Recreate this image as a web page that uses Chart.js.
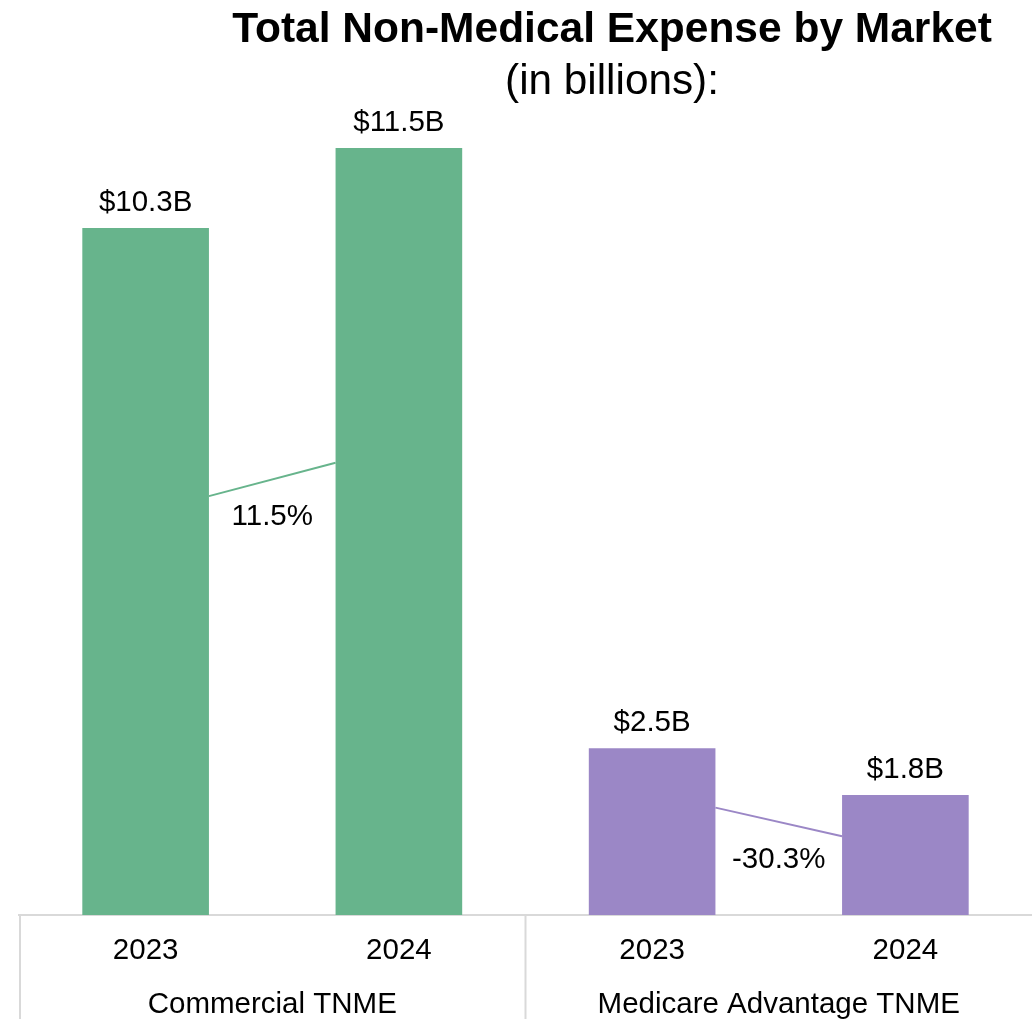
<!DOCTYPE html>
<html>
<head>
<meta charset="utf-8">
<script src="https://cdn.jsdelivr.net/npm/chart.js@4.4.1/dist/chart.umd.min.js"></script>
<style>
  html, body { margin: 0; padding: 0; background: #ffffff; }
  #wrap { width: 1032px; height: 1019px; position: relative; }
</style>
</head>
<body>
<div id="wrap"><canvas id="chart" width="1032" height="1019"></canvas></div>
<script>
// Total non-medical expense (TNME), in billions of dollars
const markets = ['Commercial TNME', 'Medicare Advantage TNME'];
const years = ['2023', '2024', '2023', '2024'];
const expense = [10.3, 11.5, 2.5, 1.8];
const barMarket = [0, 0, 1, 1];

// Year-over-year change per market, with the connector drawn between each pair of bars
const changeLabels = ['11.5%', '-30.3%'];
const connectorFrom = [6.28, 1.61];
const connectorTo = [6.78, 1.18];

const marketColors = ['#67b48c', '#9b87c6'];
const FONT = '"Liberation Sans", Arial, sans-serif';

const annotations = {
  id: 'annotations',
  afterDraw(chart) {
    const { ctx, chartArea, scales } = chart;
    const x = scales.x, y = scales.y;
    const meta = chart.getDatasetMeta(0);
    ctx.save();

    // group separators below the axis
    ctx.strokeStyle = '#d9d9d9';
    ctx.lineWidth = 2;
    const mid = (x.getPixelForValue(1) + x.getPixelForValue(2)) / 2;
    [chartArea.left + 1, mid].forEach(px => {
      ctx.beginPath();
      ctx.moveTo(px, chartArea.bottom);
      ctx.lineTo(px, chart.height);
      ctx.stroke();
    });

    // market names under the year ticks
    ctx.fillStyle = '#000';
    ctx.font = '29.5px ' + FONT;
    ctx.textAlign = 'center';
    ctx.textBaseline = 'alphabetic';
    const bounds = [chartArea.left, mid, chartArea.right];
    markets.forEach((m, i) => {
      ctx.fillText(m, (bounds[i] + bounds[i + 1]) / 2, chartArea.bottom + 98);
    });

    // value labels above the bars
    meta.data.forEach((bar, i) => {
      ctx.fillText('$' + expense[i].toFixed(1) + 'B', bar.x, bar.y - 17);
    });

    // change connectors and percentages
    for (let g = 0; g < markets.length; g++) {
      const a = meta.data[g * 2], b = meta.data[g * 2 + 1];
      const x1 = a.x + a.width / 2, x2 = b.x - b.width / 2;
      const y1 = y.getPixelForValue(connectorFrom[g]);
      const y2 = y.getPixelForValue(connectorTo[g]);
      ctx.strokeStyle = marketColors[g];
      ctx.lineWidth = 2;
      ctx.beginPath();
      ctx.moveTo(x1, y1);
      ctx.lineTo(x2, y2);
      ctx.stroke();
      ctx.fillStyle = '#000';
      ctx.fillText(changeLabels[g], (x1 + x2) / 2, (y1 + y2) / 2 + 46);
    }

    // heading
    ctx.font = 'bold 42.5px ' + FONT;
    ctx.fillText('Total Non-Medical Expense by Market', 612, 42);
    ctx.font = '42.3px ' + FONT;
    ctx.fillText('(in billions):', 612, 94);
    ctx.restore();
  }
};

new Chart(document.getElementById('chart'), {
  type: 'bar',
  data: {
    labels: years,
    datasets: [{
      data: expense,
      backgroundColor: barMarket.map(m => marketColors[m]),
      borderWidth: 0,
      barPercentage: 0.5,
      categoryPercentage: 1.0
    }]
  },
  options: {
    responsive: false,
    devicePixelRatio: 1,
    animation: false,
    layout: { padding: { top: 114.6, left: 19, right: -2, bottom: 0 } },
    plugins: {
      legend: { display: false },
      tooltip: { enabled: false },
      title: { display: false }
    },
    scales: {
      x: {
        grid: { display: false, drawTicks: false },
        border: { display: true, color: '#d9d9d9', width: 2 },
        ticks: { color: '#000', font: { family: FONT, size: 29.5 }, padding: 18, maxRotation: 0 },
        afterFit(scale) { scale.height = 104; }
      },
      y: {
        display: false,
        min: 0,
        max: 12
      }
    }
  },
  plugins: [annotations]
});
</script>
</body>
</html>
